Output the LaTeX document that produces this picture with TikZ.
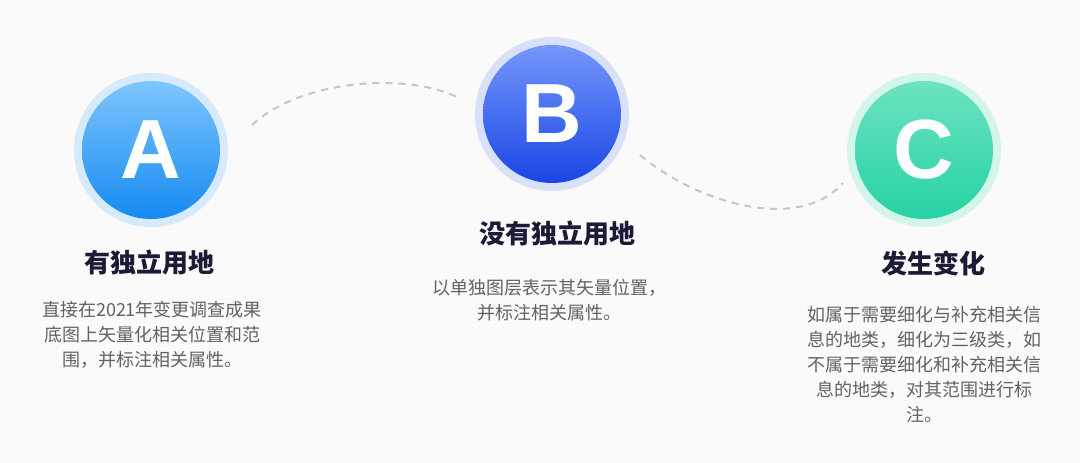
\documentclass[tikz,border=0pt]{standalone}
\usepackage{fontspec}
\setmainfont{Liberation Sans}
\newfontfamily\cjk{Noto Sans CJK SC}
\newfontfamily\cjkb{Noto Sans CJK SC}[BoldFont={* Bold}]
\newfontfamily\letterfont{Liberation Sans}
\definecolor{bgc}{HTML}{FAFAFA}
\definecolor{ringA}{HTML}{D6EAFC}
\definecolor{topA}{HTML}{7EC6FE}
\definecolor{botA}{HTML}{158AF0}
\definecolor{ringB}{HTML}{D9E1FA}
\definecolor{topB}{HTML}{7397FB}
\definecolor{botB}{HTML}{1A45E5}
\definecolor{ringC}{HTML}{D3F5EA}
\definecolor{topC}{HTML}{6CE3C1}
\definecolor{botC}{HTML}{26D2A3}
\definecolor{titlec}{HTML}{1B1B38}
\definecolor{bodyc}{HTML}{626262}
\definecolor{dashc}{HTML}{C6C6C6}
\tikzset{
  ringdisc/.style={circle, minimum size=154pt, inner sep=0pt},
  coredisc/.style={circle, minimum size=138pt, inner sep=0pt},
  letter/.style={text=white, inner sep=0pt, font=\letterfont\bfseries\fontsize{84}{84}\selectfont},
  titletext/.style={text=titlec, inner sep=0pt, font=\cjk\bfseries\fontsize{26}{30}\selectfont},
  bodytext/.style={text=bodyc, inner sep=0pt, align=center, font=\cjk\fontsize{18}{25}\selectfont},
  linkline/.style={draw=dashc, line width=2pt, dash pattern=on 7pt off 6pt}
}
\begin{document}
\begin{tikzpicture}[x=1pt,y=-1pt]
\fill[bgc] (0,0) rectangle (1080,463);
\useasboundingbox (0,0) rectangle (1080,463);
% circles
\node[ringdisc, fill=ringA] (ringa) at (151,150) {};
\node[coredisc, top color=topA, bottom color=botA] (corea) at (151,150) {};
\node[letter] (la) at (corea.center) {A};
\node[ringdisc, fill=ringB] (ringb) at (552,114) {};
\node[coredisc, top color=topB, bottom color=botB] (coreb) at (552,114) {};
\node[letter] (lb) at (coreb.center) {B};
\node[ringdisc, fill=ringC] (ringc) at (924,150) {};
\node[coredisc, top color=topC, bottom color=botC] (corec) at (924,150) {};
\node[letter] (lc) at (corec.center) {C};
% titles
\node[titletext] (ta) at (149,263) {有独立用地};
\node[titletext] (tb) at (557,234) {没有独立用地};
\node[titletext] (tc) at (933,263.5) {发生变化};
% bodies
\node[bodytext] (ba) at (152,335) {直接在2021年变更调查成果\\底图上矢量化相关位置和范\\围，并标注相关属性。};
\node[bodytext] (bb) at (549,300) {以单独图层表示其矢量位置，\\并标注相关属性。};
\node[bodytext] (bc) at (924,365) {如属于需要细化与补充相关信\\息的地类，细化为三级类，如\\不属于需要细化和补充相关信\\息的地类，对其范围进行标\\注。};
% connectors
\coordinate (ab1) at (252,125);
\coordinate (ab2) at (457,97);
\coordinate (bc1) at (640,155);
\coordinate (bc2) at (843,183);
\draw[linkline] (ab1) .. controls (300,80) and (405,72) .. (ab2);
\draw[linkline] (bc1) .. controls (700,205) and (800,232) .. (bc2);
\end{tikzpicture}
\end{document}
